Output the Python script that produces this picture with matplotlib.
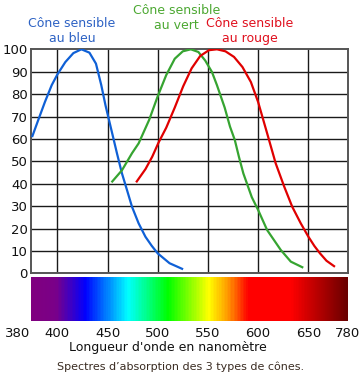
"""
Spectres d'absorption des trois types de cônes (bleu, vert, rouge).
"""

import numpy as np
import matplotlib
matplotlib.use("Agg")
import matplotlib.pyplot as plt
from matplotlib.colors import LinearSegmentedColormap

# --- données (longueur d'onde nm, absorption %) ---
BLUE_NM = [381, 385.6, 390.7, 395.8, 400, 408, 416, 424, 432, 438.5, 443.8, 448, 452, 456,
           459.4, 464.4, 469.4, 474.4, 481, 487.8, 494, 500, 511.8, 525.3]
BLUE_VAL = [60.8, 68.3, 76.5, 84, 88.7, 94.3, 98.3, 100, 98.5, 93.6, 84, 75, 67.5, 60,
            53.6, 44.6, 37.2, 29.7, 22.3, 16.3, 12.3, 8.9, 4.5, 1.8]

GREEN_NM = [454, 464.4, 474.4, 481, 486, 491.5, 500, 508.5, 517, 525, 533, 540.5, 547.3, 554,
            559, 566.7, 572, 576.8, 580.9, 585.3, 593.7, 600, 609, 622.6, 632.6, 645]
GREEN_VAL = [40.6, 46, 53.6, 58, 63, 68.5, 79, 88.5, 95.8, 99.1, 100, 98.8, 95, 89.9,
             84, 74, 65.5, 59.5, 52, 44.6, 34, 28.3, 19.3, 10.4, 5.2, 2.5]

RED_NM = [478.5, 487.8, 494.5, 501, 508.5, 517, 525.4, 533.8, 542.3, 551, 559, 567.5, 576,
          584.4, 592.8, 600, 609, 617.5, 626, 634, 642.5, 650, 670, 688.6, 710, 738]
RED_VAL = [40.6, 46.5, 52, 58.5, 65, 74, 83.5, 91.5, 97, 99.6, 100, 99.1, 96.6,
           92.1, 85.4, 76.5, 62.5, 49.1, 38.7, 29.7, 22.3, 16.4, 12.2, 8.9, 5.6, 2.9]

# axe des x non linéaire (380-400 et 650-780 compressés)
AXIS_NM = [380, 400, 650, 780]
AXIS_POS = [0, 26.6, 277.6, 317]

GRID_NM = [400, 450, 500, 550, 600, 650]
TICK_NM = [380, 400, 450, 500, 550, 600, 650, 780]
Y_TICKS = list(range(0, 101, 10))

# bande du spectre visible
SPECTRUM_NM = [380, 398, 427.7, 470, 510, 533, 551, 570, 590, 633, 650, 771, 780]
SPECTRUM_COLORS = ["#80007f", "#7a0088", "#0000ff", "#00ffff", "#00ff00", "#8cff00", "#ffff00",
                   "#ff9900", "#ff0000", "#ff0000", "#d00000", "#700000", "#6a0000"]

CURVES = [
    (BLUE_NM, BLUE_VAL, "#0f60d6"),
    (GREEN_NM, GREEN_VAL, "#36a431"),
    (RED_NM, RED_VAL, "#e00000"),
]

LABELS = [
    ("Cône sensible\nau bleu", 72, 31, "#2d62c4"),
    ("Cône sensible\nau vert", 176.5, 18, "#4ca832"),
    ("Cône sensible\nau rouge", 250, 31, "#e0101e"),
]


def fwd(x):
    return np.interp(x, AXIS_NM, AXIS_POS)


def inv(p):
    return np.interp(p, AXIS_POS, AXIS_NM)


def main():
    W, H = 361, 378
    fig = plt.figure(figsize=(W / 100, H / 100), dpi=100)

    ax = fig.add_axes([30.7 / W, 1 - 273.3 / H, 317 / W, 224 / H])
    ax.set_xscale("function", functions=(fwd, inv))
    ax.set_xlim(380, 780)
    ax.set_ylim(0, 100)

    for x in GRID_NM:
        ax.axvline(x, color="#1a1a1a", lw=1.0, zorder=1)
    for y in Y_TICKS[1:-1]:
        ax.axhline(y, color="#1a1a1a", lw=1.0, zorder=1)

    for nm, val, color in CURVES:
        ax.plot(nm, val, color=color, lw=1.6, zorder=3, solid_capstyle="butt",
                solid_joinstyle="round")

    ax.set_xticks([])
    ax.set_yticks(Y_TICKS)
    ax.tick_params(axis="y", length=0, pad=2, labelsize=9.5, labelcolor="#111")
    for sp in ax.spines.values():
        sp.set_color("#555555")
        sp.set_linewidth(1.4)

    # bande spectrale
    sax = fig.add_axes([30.7 / W, 1 - 321 / H, 317 / W, 44.5 / H])
    sax.set_xscale("function", functions=(fwd, inv))
    stops = [(n - 380) / 400 for n in SPECTRUM_NM]
    cmap = LinearSegmentedColormap.from_list("spectre", list(zip(stops, SPECTRUM_COLORS)))
    edges = np.linspace(380, 780, 801)
    centers = (edges[:-1] + edges[1:]) / 2
    sax.pcolormesh(edges, [0, 1], centers[np.newaxis, :], cmap=cmap,
                   vmin=380, vmax=780, shading="flat")
    sax.set_xlim(380, 780)
    sax.set_ylim(0, 1)
    sax.set_yticks([])
    sax.set_xticks(TICK_NM)
    sax.set_xticklabels([str(t) for t in TICK_NM])
    sax.tick_params(axis="x", length=0, pad=4, labelsize=9.5, labelcolor="#111")
    sax.get_xticklabels()[0].set_ha("right")
    for sp in sax.spines.values():
        sp.set_visible(False)

    for text, x, y, color in LABELS:
        fig.text(x / W, 1 - y / H, text, color=color, fontsize=9,
                 ha="center", va="center", linespacing=1.2)

    fig.text(168 / W, 1 - 348 / H, "Longueur d'onde en nanomètre",
             fontsize=9, ha="center", va="center", color="#111")
    fig.text(181 / W, 1 - 367 / H, "Spectres d\u2019absorption des 3 types de cônes.",
             fontsize=8, ha="center", va="center", color="#3a2c22")

    fig.savefig("out.png", dpi=100)
    plt.close(fig)


if __name__ == "__main__":
    main()
